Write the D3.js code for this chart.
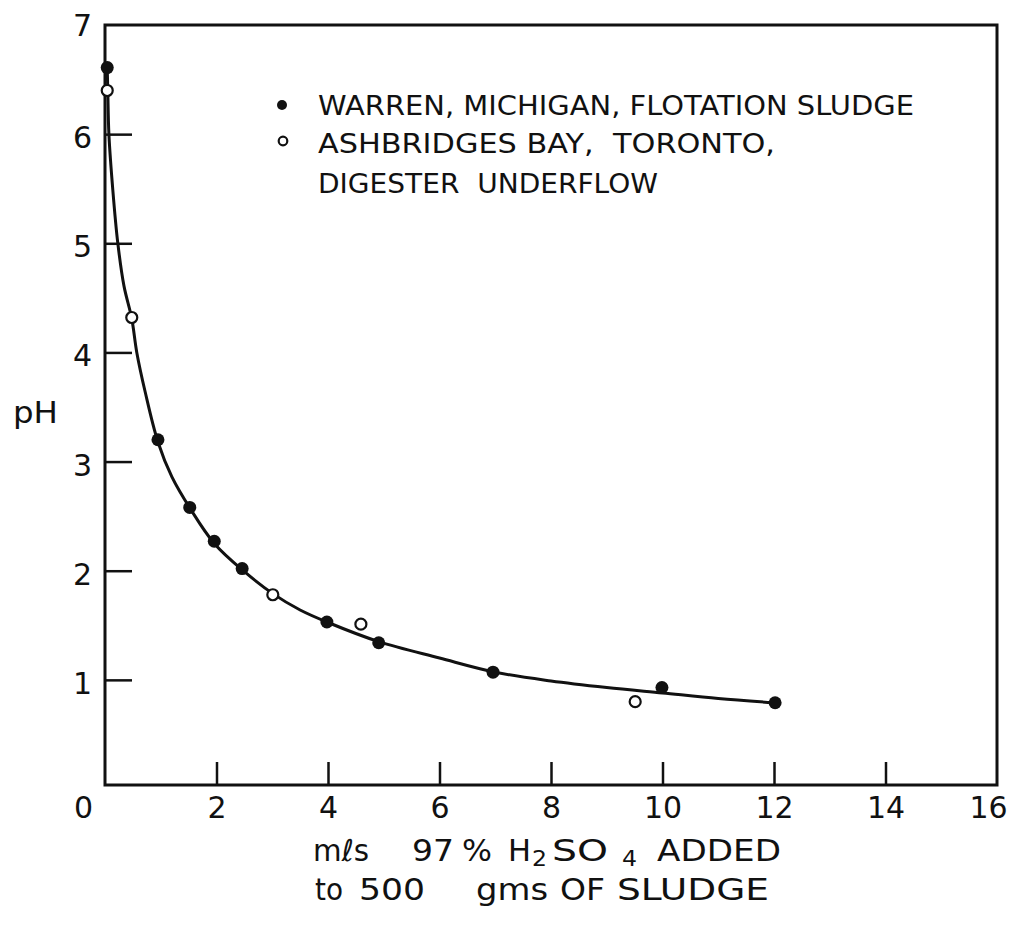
<!DOCTYPE html>
<html>
<head>
<meta charset="utf-8">
<script src="https://cdn.jsdelivr.net/npm/d3@7"></script>
<style>
  html, body { margin: 0; padding: 0; background: #fff; }
  svg { display: block; }
  text { font-family: "DejaVu Sans", sans-serif; fill: #111; white-space: pre; }
</style>
</head>
<body>
<script>
// ---- data ----
const warrenX  = [0.04, 0.95, 1.52, 1.96, 2.46, 3.98, 4.91, 6.96, 9.99, 12.02];
const warrenPH = [6.61, 3.20, 2.58, 2.27, 2.02, 1.53, 1.34, 1.07, 0.93, 0.79];

const torontoX  = [0.04, 0.48, 3.01, 4.59, 9.51];
const torontoPH = [6.40, 4.32, 1.78, 1.51, 0.80];

// fitted curve drawn in the reference
const curveX  = [0.04, 0.05, 0.07, 0.14, 0.23, 0.34, 0.48, 0.57, 0.72, 0.95, 1.20, 1.54, 1.96, 2.48, 3.01, 3.5, 3.98, 4.91, 6.0, 7.0, 8.0, 9.0, 10.0, 11.0, 12.0];
const curvePH = [6.61, 6.40, 6.00, 5.49, 5.00, 4.61, 4.31, 4.00, 3.64, 3.18, 2.86, 2.56, 2.25, 2.00, 1.79, 1.64, 1.53, 1.35, 1.20, 1.07, 0.99, 0.93, 0.88, 0.83, 0.79];

const xTickVals = [0, 2, 4, 6, 8, 10, 12, 14, 16];
const yTickVals = [1, 2, 3, 4, 5, 6, 7];

const legendLabels = [
  "WARREN, MICHIGAN, FLOTATION SLUDGE",
  "ASHBRIDGES BAY,  TORONTO,",
  "DIGESTER  UNDERFLOW"
];
const yTitle = "pH";
// x-axis title, split in pieces (text, subscript flag)
const xTitleLine1 = [["mℓs", 0], ["97", 0], ["%", 0], ["H", 0], ["2", 1], ["SO", 0], ["4", 1], ["ADDED", 0]];
const xTitleLine2 = ["to", "500", "gms", "OF", "SLUDGE"];

// ---- layout ----
const W = 1011, H = 927;
const svg = d3.select("body").append("svg").attr("width", W).attr("height", H);

const x = d3.scaleLinear().domain([0, 16]).range([105, 997]);
const y = d3.scaleLinear().domain([0, 7]).range([789, 25]);
const frameBottom = 785;

// frame
svg.append("rect")
  .attr("x", x(0)).attr("y", y(7))
  .attr("width", x(16) - x(0)).attr("height", frameBottom - y(7))
  .attr("fill", "none").attr("stroke", "#111").attr("stroke-width", 3);

// bottom axis
const gx = svg.append("g").attr("transform", `translate(0,${frameBottom})`)
  .call(d3.axisBottom(x).tickValues(xTickVals).tickSizeInner(-23).tickSizeOuter(0)
    .tickPadding(12).tickFormat(d3.format("d")));
gx.select(".domain").remove();
gx.selectAll(".tick line").attr("stroke", "#111").attr("stroke-width", 2.5)
  .attr("opacity", d => (d === 0 || d === 16) ? 0 : 1);
gx.selectAll(".tick text").attr("font-size", 30).attr("font-family", "DejaVu Sans")
  .attr("fill", "#111").attr("dx", d => d === 0 ? -22 : (d === 16 ? -9 : 0));

// left axis
const gy = svg.append("g").attr("transform", `translate(${x(0)},0)`)
  .call(d3.axisLeft(y).tickValues(yTickVals).tickSizeInner(-27).tickSizeOuter(0)
    .tickPadding(13).tickFormat(d3.format("d")));
gy.select(".domain").remove();
gy.selectAll(".tick line").attr("stroke", "#111").attr("stroke-width", 2.5)
  .attr("opacity", d => d === 7 ? 0 : 1);
gy.selectAll(".tick text").attr("font-size", 30).attr("font-family", "DejaVu Sans")
  .attr("fill", "#111").attr("dy", d => d === 7 ? "0.35em" : "0.45em");

// y title
svg.append("text").attr("x", 13).attr("y", 423).attr("font-size", 30)
  .attr("textLength", 45).attr("lengthAdjust", "spacingAndGlyphs").text(yTitle);

// x title line 1 (segment starts and widths)
const l1x = [313, 412, 462, 508, 532, 552, 622, 657];
const l1w = [56, 42, 30, 23, 15, 56, 15, 124];
xTitleLine1.forEach(([t, sub], i) => {
  svg.append("text").attr("x", l1x[i]).attr("y", sub ? 866 : 861)
    .attr("font-size", sub ? 22 : 30)
    .attr("textLength", l1w[i]).attr("lengthAdjust", "spacingAndGlyphs").text(t);
});
// x title line 2
const l2x = [315, 359, 476, 560, 617];
const l2w = [28, 66, 72, 45, 152];
xTitleLine2.forEach((t, i) => {
  svg.append("text").attr("x", l2x[i]).attr("y", 900).attr("font-size", 30)
    .attr("textLength", l2w[i]).attr("lengthAdjust", "spacingAndGlyphs").text(t);
});

// curve
const curveData = curveX.map((v, i) => [v, curvePH[i]]);
svg.append("path").datum(curveData)
  .attr("d", d3.line().x(d => x(d[0])).y(d => y(d[1])).curve(d3.curveCatmullRom.alpha(0.5)))
  .attr("fill", "none").attr("stroke", "#111").attr("stroke-width", 3);

// points
const warren = warrenX.map((v, i) => [v, warrenPH[i]]);
const toronto = torontoX.map((v, i) => [v, torontoPH[i]]);

svg.append("g").selectAll("circle").data(toronto).join("circle")
  .attr("cx", d => x(d[0])).attr("cy", d => y(d[1])).attr("r", 5.5)
  .attr("fill", "#fff").attr("stroke", "#111").attr("stroke-width", 2.2);

svg.append("g").selectAll("circle").data(warren).join("circle")
  .attr("cx", d => x(d[0])).attr("cy", d => y(d[1])).attr("r", 6.5)
  .attr("fill", "#111");

// legend
const lg = svg.append("g");
lg.append("circle").attr("cx", 282).attr("cy", 105).attr("r", 5).attr("fill", "#111");
lg.append("circle").attr("cx", 283).attr("cy", 141).attr("r", 4.3).attr("fill", "#fff")
  .attr("stroke", "#111").attr("stroke-width", 2.2);
const legW = [596, 457, 340];
const legY = [115, 153, 193];
legendLabels.forEach((t, i) => {
  lg.append("text").attr("x", 318).attr("y", legY[i]).attr("font-size", 27)
    .attr("textLength", legW[i]).attr("lengthAdjust", "spacingAndGlyphs").text(t);
});
</script>
</body>
</html>
